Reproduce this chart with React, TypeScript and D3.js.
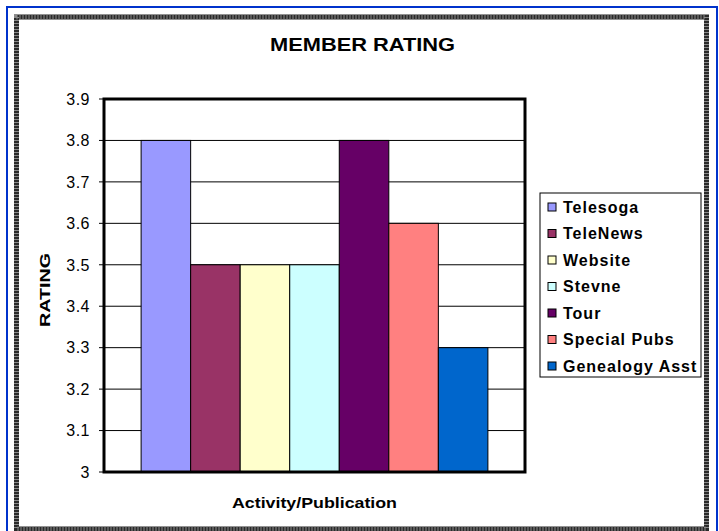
import React from "react";
import * as d3 from "d3";

const categories = ["Telesoga", "TeleNews", "Website", "Stevne", "Tour", "Special Pubs", "Genealogy Asst"];
const ratings = [3.8, 3.5, 3.5, 3.5, 3.8, 3.6, 3.3];
const colors = ["#9999FF", "#993366", "#FFFFCC", "#CCFFFF", "#660066", "#FF8080", "#0066CC"];
const yTicks = [3, 3.1, 3.2, 3.3, 3.4, 3.5, 3.6, 3.7, 3.8, 3.9];

const W = 719, H = 531;
const plot = { left: 104, top: 99, right: 525, bottom: 472 };

export default function App() {
  const y = d3.scaleLinear().domain([3, 3.9]).range([plot.bottom, plot.top]);
  const group = d3.scaleBand().domain(["g"]).range([plot.left, plot.right]).paddingInner(0).paddingOuter(0.107);
  const x = d3.scaleBand().domain(categories).range([group("g")!, group("g")! + group.bandwidth()]).padding(0);
  const font = "Arial, 'Liberation Sans', sans-serif";
  const legendY = d3.scalePoint().domain(categories).range([207, 366]);
  return (
    <svg width={W} height={H} style={{ position: "absolute", left: 0, top: 0, background: "#fff" }} fontFamily={font}>
      <rect x={0} y={0} width={W} height={H} fill="#fff" />
      <rect x={7} y={7} width={710} height={530} fill="none" stroke="#0033CC" strokeWidth={2} />
      <rect x={16.5} y={17} width={690} height={512} fill="none" stroke="#2a2a2a" strokeWidth={5} />
      <rect x={16.5} y={17} width={690} height={512} fill="none" stroke="#8a8a8a" strokeWidth={5} strokeDasharray="1 2" />
      <text x={270} y={51} fontSize={18} fontWeight="bold" textLength={185} lengthAdjust="spacingAndGlyphs">MEMBER RATING</text>
      {yTicks.map((t) => (
        <g key={t}>
          {t > 3 && t < 3.9 && (
            <line x1={plot.left} x2={plot.right} y1={y(t)} y2={y(t)} stroke="#000" strokeWidth={1} />
          )}
          <line x1={plot.left - 5} x2={plot.left} y1={y(t)} y2={y(t)} stroke="#000" strokeWidth={1} />
          <text x={90} y={y(t)} dy="0.36em" textAnchor="end" fontSize={16} letterSpacing={0.5}>{String(t)}</text>
        </g>
      ))}
      {categories.map((c, i) => (
        <rect key={c} x={x(c)} y={y(ratings[i])} width={x.bandwidth()} height={y(3) - y(ratings[i])}
          fill={colors[i]} stroke="#000" strokeWidth={1} />
      ))}
      <rect x={plot.left} y={plot.top} width={plot.right - plot.left} height={plot.bottom - plot.top}
        fill="none" stroke="#000" strokeWidth={3} />
      <text transform={`translate(50,327) rotate(-90)`} fontSize={14} fontWeight="bold" textLength={74} lengthAdjust="spacingAndGlyphs">RATING</text>
      <text x={232} y={508} fontSize={15} fontWeight="bold" textLength={165} lengthAdjust="spacingAndGlyphs">Activity/Publication</text>
      <rect x={540} y={193} width={161} height={184} fill="#fff" stroke="#000" strokeWidth={1} />
      {categories.map((c, i) => (
        <g key={c}>
          <rect x={548} y={legendY(c)! - 4} width={8} height={8} fill={colors[i]} stroke="#000" strokeWidth={1} />
          <text x={563} y={legendY(c)!} dy="0.36em" fontSize={16} fontWeight="bold" letterSpacing={1}>{c}</text>
        </g>
      ))}
    </svg>
  );
}
